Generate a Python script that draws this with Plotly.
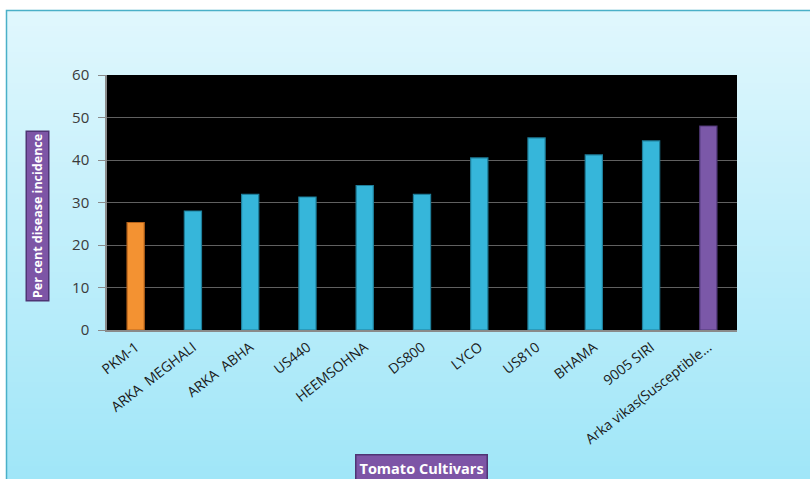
import plotly.graph_objects as go

cultivars = ["PKM-1", "ARKA  MEGHALI", "ARKA  ABHA", "US440", "HEEMSOHNA", "DS800",
             "LYCO", "US810", "BHAMA", "9005 SIRI", "Arka vikas(Susceptible..."]
incidence = [25.3, 28.0, 31.9, 31.3, 34.0, 31.9, 40.5, 45.2, 41.2, 44.5, 48.0]
bar_colors = ["#f39232"] + ["#36b6da"] * 9 + ["#7b58a8"]
line_colors = ["#b5621a"] + ["#1e7e9a"] * 9 + ["#4e3675"]
y_ticks = [0, 10, 20, 30, 40, 50, 60]

W, H = 810, 479
L, R, T, B = 107, 73, 75, 149
pw, ph = W - L - R, H - T - B

def px(x):
    return (x - L) / pw

def py(y):
    return (H - B - y) / ph

fig = go.Figure()
fig.add_trace(go.Bar(
    x=cultivars, y=incidence,
    marker=dict(color=bar_colors, line=dict(color=line_colors, width=1.2)),
    width=0.3,
))

shapes = []
# gradient background of chart area
n = 90
top, bot = 10, 482
c0 = (224, 247, 253)
c1 = (160, 230, 248)
for i in range(n):
    y0 = top + (bot - top) * i / n
    y1 = top + (bot - top) * (i + 1) / n + 0.8
    t = i / (n - 1)
    c = tuple(int(round(c0[k] + (c1[k] - c0[k]) * t)) for k in range(3))
    shapes.append(dict(type="rect", xref="paper", yref="paper",
                       x0=px(7), x1=px(812), y0=py(y0), y1=py(y1),
                       fillcolor="rgb(%d,%d,%d)" % c, line=dict(width=0), layer="below"))
shapes.append(dict(type="rect", xref="paper", yref="paper",
                   x0=px(6.5), x1=px(815), y0=py(10.5), y1=py(490),
                   fillcolor="rgba(0,0,0,0)", line=dict(color="#4ab0c8", width=1.5), layer="below"))
# black plot area
shapes.append(dict(type="rect", xref="paper", yref="paper", x0=0, x1=1, y0=0, y1=1,
                   fillcolor="black", line=dict(width=0), layer="below"))

fig.update_layout(
    width=W, height=H,
    margin=dict(l=L, r=R, t=T, b=B),
    paper_bgcolor="white",
    plot_bgcolor="black",
    showlegend=False,
    shapes=shapes,
    font=dict(family="Open Sans, Noto Sans, sans-serif", color="#222"),
    xaxis=dict(
        tickangle=-38, tickfont=dict(size=14, color="#1a1a1a"),
        showline=True, linecolor="#8a8a8a", linewidth=1.5,
        ticks="", showgrid=False, ticklabelstandoff=2,
    ),
    yaxis=dict(
        range=[0, 60], tickvals=y_ticks, ticktext=[str(v) for v in y_ticks],
        tickfont=dict(size=15, color="#3a3a3a"),
        showline=True, linecolor="#8a8a8a", linewidth=1.5,
        ticks="outside", ticklen=7, tickcolor="#8a8a8a",
        ticklabelstandoff=6,
        showgrid=True, gridcolor="#606060", gridwidth=1.3,
        zeroline=False,
    ),
    annotations=[
        dict(text="<b>Per cent disease incidence</b>", textangle=-90,
             xref="paper", yref="paper", x=px(37.5), y=py(216),
             xanchor="center", yanchor="middle",
             showarrow=False, font=dict(size=12.5, color="white", family="Open Sans, sans-serif"),
             bgcolor="#7d55a6", bordercolor="#4f3474", borderwidth=1.5, borderpad=2),
        dict(text="<b>Tomato Cultivars</b>",
             xref="paper", yref="paper", x=px(421), y=py(468),
             xanchor="center", yanchor="middle",
             showarrow=False, font=dict(size=14.5, color="white", family="Open Sans, sans-serif"),
             bgcolor="#7d55a6", bordercolor="#4f3474", borderwidth=1.5, borderpad=3),
    ],
)

fig.write_html("out.html")
